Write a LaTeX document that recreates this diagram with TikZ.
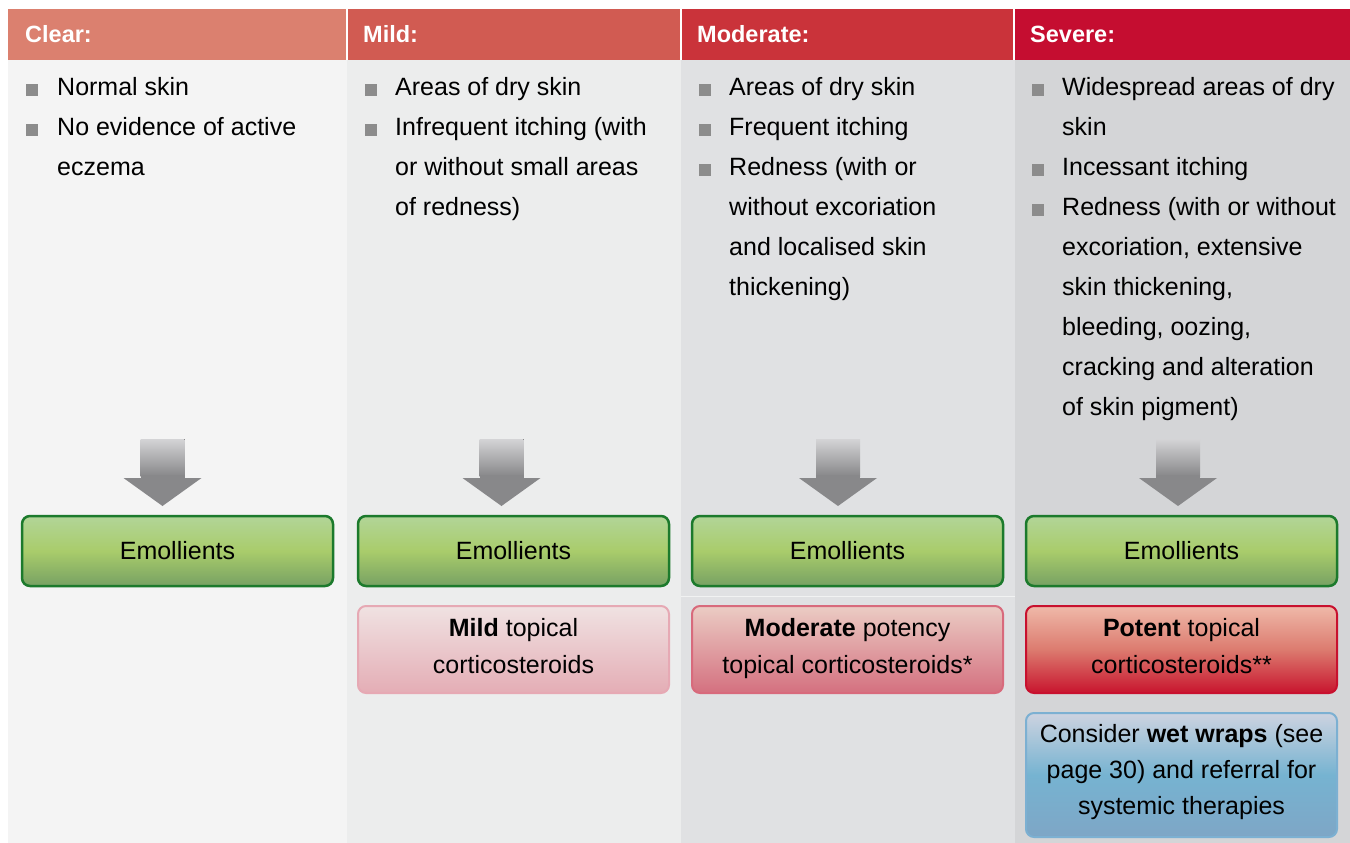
\documentclass[tikz,border=0pt]{standalone}
\usepackage{fontspec}
\setmainfont{Liberation Sans}
\usetikzlibrary{shadings}
\definecolor{hA}{HTML}{DB806F}
\definecolor{hB}{HTML}{D15B52}
\definecolor{hC}{HTML}{CA333A}
\definecolor{hD}{HTML}{C50D30}
\definecolor{bA}{HTML}{F4F4F4}
\definecolor{bB}{HTML}{ECEDED}
\definecolor{bC}{HTML}{E0E1E3}
\definecolor{bD}{HTML}{D4D5D7}
\definecolor{bulgray}{HTML}{8C8C8C}
\definecolor{arrtop}{HTML}{D4D4D6}
\definecolor{arrbot}{HTML}{88888A}
\definecolor{emline}{HTML}{1C7A2C}
\definecolor{emtop}{HTML}{B2D598}
\definecolor{emmid}{HTML}{A9CC6B}
\definecolor{embot}{HTML}{77A163}
\definecolor{miline}{HTML}{E6A9B4}
\definecolor{mitop}{HTML}{F0E2E2}
\definecolor{mibot}{HTML}{E4ADB5}
\definecolor{moline}{HTML}{D86A7C}
\definecolor{motop}{HTML}{EBCCC4}
\definecolor{mobot}{HTML}{D4707F}
\definecolor{poline}{HTML}{C8102E}
\definecolor{potop}{HTML}{EFB9A9}
\definecolor{pomid}{HTML}{DC7B6F}
\definecolor{pobot}{HTML}{C8142E}
\definecolor{blline}{HTML}{7CB0D2}
\definecolor{bltop}{HTML}{CDD3E0}
\definecolor{blmid}{HTML}{76B3D1}
\definecolor{blbot}{HTML}{7EA6C6}
\newcommand\bstrut{\rule[-12pt]{0pt}{40pt}}
\newcommand\strA{\rule[-13.5pt]{0pt}{37pt}}
\newcommand\strB{\rule[-15pt]{0pt}{36pt}}
\begin{document}
\begin{tikzpicture}[x=1pt,y=-1pt,
  hdr/.style={anchor=base west, inner sep=0pt, text=white, font=\fontsize{23.5}{28}\selectfont\bfseries},
  body/.style={anchor=north west, inner sep=0pt, align=left, font=\fontsize{25}{40}\selectfont, text=black},
  bul/.style={fill=bulgray, minimum size=12pt, inner sep=0pt, draw=none},
  tbox/.style={rounded corners=8pt, inner sep=0pt, minimum width=311pt, align=center, text=black},
  emol/.style={tbox, draw=emline, line width=2.5pt, top color=emtop, bottom color=embot, middle color=emmid, minimum height=70pt, font=\fontsize{25}{30}\selectfont},
  ster/.style={tbox, line width=2pt, minimum height=87pt, font=\fontsize{25}{37}\selectfont},
  wbox/.style={tbox, line width=2pt, draw=blline, top color=bltop, bottom color=blbot, middle color=blmid, minimum height=124pt, font=\fontsize{25}{36}\selectfont}
]
\useasboundingbox (0,0) rectangle (1350,843);
\fill[white] (0,0) rectangle (1350,843);
% column backgrounds
\fill[bA] (8,60) rectangle (347,843);
\fill[bB] (347,60) rectangle (681,843);
\fill[bC] (681,60) rectangle (1015,843);
\fill[bD] (1015,60) rectangle (1350,843);
\draw[line width=1pt, color=bC!45!white] (681,596) -- (1015,596);
% headers
\fill[hA] (8,9) rectangle (346,60);
\fill[hB] (348,9) rectangle (680,60);
\fill[hC] (682,9) rectangle (1013,60);
\fill[hD] (1015,9) rectangle (1350,60);
\node[hdr] (hclear) at (25,43) {Clear:};
\node[hdr] (hmild) at (363,43) {Mild:};
\node[hdr] (hmod) at (697,43) {Moderate:};
\node[hdr] (hsev) at (1030,43) {Severe:};
% column 1
\node[bul] (b1a) at (32,90) {};
\node[body] (t1a) at (57,67) {\bstrut Normal skin};
\node[bul] (b1b) at (32,130) {};
\node[body] (t1b) at (57,107) {\bstrut No evidence of active\\\bstrut eczema};
% column 2
\node[bul] (b2a) at (371,90) {};
\node[body] (t2a) at (395,67) {\bstrut Areas of dry skin};
\node[bul] (b2b) at (371,130) {};
\node[body] (t2b) at (395,107) {\bstrut Infrequent itching (with\\\bstrut or without small areas\\\bstrut of redness)};
% column 3
\node[bul] (b3a) at (705,90) {};
\node[body] (t3a) at (729,67) {\bstrut Areas of dry skin};
\node[bul] (b3b) at (705,130) {};
\node[body] (t3b) at (729,107) {\bstrut Frequent itching};
\node[bul] (b3c) at (705,170) {};
\node[body] (t3c) at (729,147) {\bstrut Redness (with or\\\bstrut without excoriation\\\bstrut and localised skin\\\bstrut thickening)};
% column 4
\node[bul] (b4a) at (1038,90) {};
\node[body] (t4a) at (1062,67) {\bstrut Widespread areas of dry\\\bstrut skin};
\node[bul] (b4b) at (1038,170) {};
\node[body] (t4b) at (1062,147) {\bstrut Incessant itching};
\node[bul] (b4c) at (1038,210) {};
\node[body] (t4c) at (1062,187) {\bstrut Redness (with or without\\\bstrut excoriation, extensive\\\bstrut skin thickening,\\\bstrut bleeding, oozing,\\\bstrut cracking and alteration\\\bstrut of skin pigment)};
% arrows
\foreach \c in {162.5,501.5,838,1178} {
  \fill[top color=arrtop, bottom color=arrbot] (\c-22,439) rectangle (\c+22,476);
  \fill[arrbot] (\c-22,475) rectangle (\c+22,479);
  \fill[arrbot] (\c-39,478) -- (\c+39,478) -- (\c,506) -- cycle;
}
% emollient boxes
\node[emol] (e1) at (177.5,551) {Emollients};
\node[emol] (e2) at (513.5,551) {Emollients};
\node[emol] (e3) at (847.5,551) {Emollients};
\node[emol] (e4) at (1181.5,551) {Emollients};
% steroid boxes
\node[ster, draw=miline, top color=mitop, bottom color=mibot] (s2) at (513.5,649.5) {\strA\textbf{Mild} topical\\\strA corticosteroids};
\node[ster, draw=moline, top color=motop, bottom color=mobot] (s3) at (847.5,649.5) {\strA\textbf{Moderate} potency\\\strA topical corticosteroids*};
\node[ster, draw=poline, top color=potop, bottom color=pobot, middle color=pomid] (s4) at (1181.5,649.5) {\strA\textbf{Potent} topical\\\strA corticosteroids**};
% wet wraps
\node[wbox] (w4) at (1181.5,775) {\strB Consider \textbf{wet wraps} (see\\\strB page 30) and referral for\\\strB systemic therapies};
\end{tikzpicture}
\end{document}
